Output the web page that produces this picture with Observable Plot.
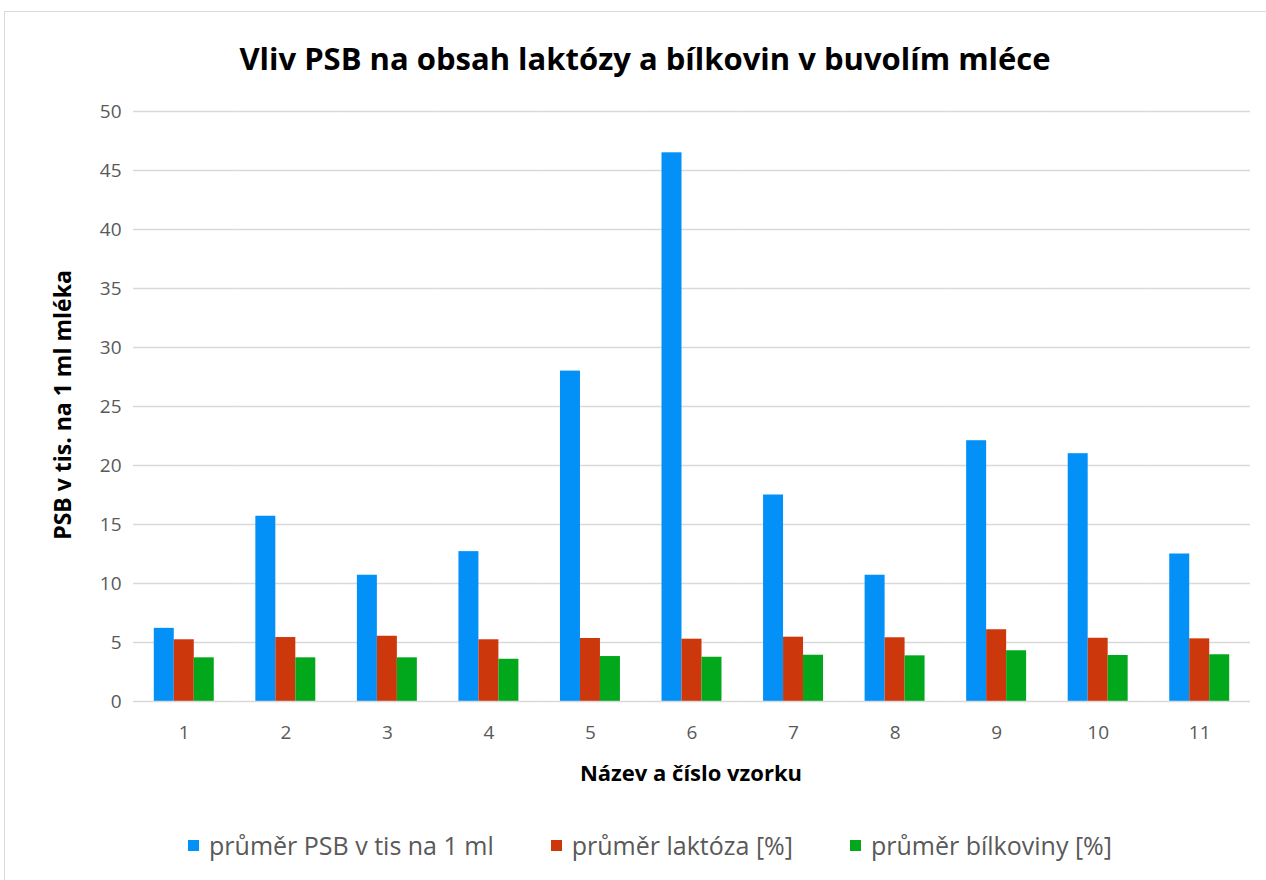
<!DOCTYPE html>
<html><head><meta charset="utf-8">
<script src="https://cdn.jsdelivr.net/npm/d3@7"></script>
<script src="https://cdn.jsdelivr.net/npm/@observablehq/plot@0.6"></script>
<style>
body{margin:0;background:#fff;width:1266px;height:880px;overflow:hidden;position:relative;font-family:"Open Sans",sans-serif}
#frame{position:absolute;left:4px;top:11px;width:1300px;height:900px;border:1px solid #d9d9d9}
#title{position:absolute;top:36px;left:12px;width:1266px;text-align:center;font-weight:bold;font-size:31px;color:#000;line-height:44px}
#chart{position:absolute;left:0;top:90px}
#xtitle{position:absolute;top:756px;left:0;width:1382px;text-align:center;font-weight:bold;font-size:22px;color:#000;line-height:32px}
#ytitle{position:absolute;left:-138px;top:389px;width:400px;text-align:center;font-weight:bold;font-size:23px;color:#000;line-height:32px;transform:rotate(-90deg)}
#legend{position:absolute;top:827px;left:0;width:1300px;display:flex;justify-content:center;gap:57px;font-size:25px;color:#595959;line-height:36px}
#legend .item{display:flex;align-items:center}
#legend .sw{width:11px;height:11px;margin-right:10px}
</style></head>
<body>
<div id="frame"></div>
<div id="title">Vliv PSB na obsah laktózy a bílkovin v buvolím mléce</div>
<div id="chart"></div>
<div id="xtitle">Název a číslo vzorku</div>
<div id="ytitle">PSB v tis. na 1 ml mléka</div>
<div id="legend"></div>
<script>
const samples = ["1","2","3","4","5","6","7","8","9","10","11"];
const seriesNames = ["průměr PSB v tis na 1 ml","průměr laktóza [%]","průměr bílkoviny [%]"];
const psb = [6.2, 15.7, 10.7, 12.7, 28.0, 46.5, 17.5, 10.7, 22.1, 21.0, 12.5];
const laktoza = [5.23, 5.42, 5.53, 5.23, 5.34, 5.28, 5.45, 5.4, 6.08, 5.36, 5.31];
const bilkoviny = [3.7, 3.7, 3.7, 3.58, 3.81, 3.75, 3.92, 3.87, 4.3, 3.9, 3.96];
const colors = ["#0391f8","#cc370b","#01a81c"];
const yTicks = [0,5,10,15,20,25,30,35,40,45,50];

const seriesValues = [psb, laktoza, bilkoviny];
const data = samples.flatMap((s, i) => seriesNames.map((n, k) => ({sample: s, series: n, value: seriesValues[k][i]})));

const chart = Plot.plot({
  width: 1266, height: 710,
  marginTop: 21, marginBottom: 99, marginLeft: 133, marginRight: 16,
  style: {fontFamily: "Open Sans, sans-serif", fontSize: "19px", color: "#595959", background: "transparent"},
  fx: {domain: samples, padding: 0, round: false, label: null, tickSize: 0, tickPadding: 24},
  x: {domain: seriesNames, paddingInner: 0, paddingOuter: 1.04, round: false, axis: null},
  y: {domain: [0, 50], ticks: yTicks, tickSize: 0, tickPadding: 12, label: null},
  color: {domain: seriesNames, range: colors},
  marks: [
    Plot.ruleY(yTicks.slice(1), {stroke: "#d9d9d9", strokeWidth: 1.5}),
    Plot.barY(data, {fx: "sample", x: "series", y: "value", fill: "series"}),
    Plot.ruleY([0], {stroke: "#d9d9d9", strokeWidth: 1.5})
  ]
});
document.getElementById("chart").appendChild(chart);

const legend = d3.select("#legend");
seriesNames.forEach((n, k) => {
  const it = legend.append("div").attr("class", "item");
  it.append("div").attr("class", "sw").style("background", colors[k]);
  it.append("span").text(n);
});
</script>
</body></html>
